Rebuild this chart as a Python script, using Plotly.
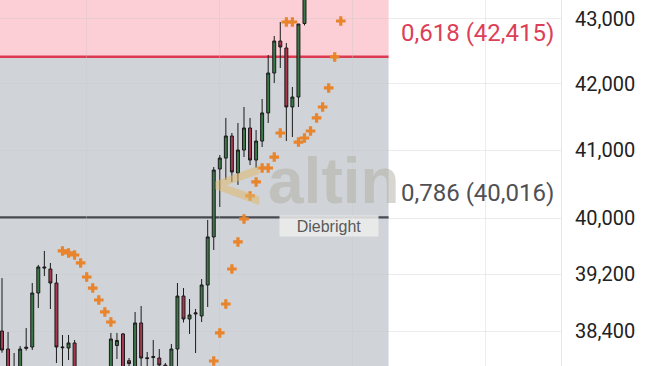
import math
import plotly.graph_objects as go

# ---------------- data ----------------
candle_idx = list(range(57))
opens = [38401, 38151, 37900, 37880, 38160, 38179, 38934, 39303, 39274, 39075,
         38180, 38165, 38235, 37700, 37500, 37600, 37550, 37750, 37860, 38200,
         38360, 37990, 37880, 38513, 38030, 38035, 38027, 37930, 37910, 38151,
         38891, 38569, 38639, 38611, 39047, 39733, 40724, 40886, 41214, 40665,
         41005, 41334, 40857, 41139, 41560, 42166, 42658, 42550, 41650, 41801,
         42930, 43450, 43650, 43820, 43900, 44100, 44050]
highs = [39145, 38388, 38096, 38193, 38443, 39075, 39332, 39532, 39360, 39203,
         38346, 38346, 38276, 37800, 37650, 37750, 37800, 37880, 38374, 38374,
         38374, 38027, 38667, 38751, 38110, 38276, 38151, 37958, 38221, 39075,
         39004, 38849, 38709, 39131, 39979, 40753, 40931, 41485, 41259, 41409,
         41650, 41485, 41304, 41771, 42442, 42736, 42953, 42627, 41953, 42922,
         43520, 43700, 43900, 44000, 44150, 44300, 44250]
lows = [38100, 37800, 37800, 37820, 38130, 38138, 38723, 39174, 38709, 37958,
        37900, 38000, 37800, 37400, 37300, 37450, 37500, 37600, 37800, 38013,
        37800, 37850, 37800, 37917, 37900, 37880, 37880, 37850, 37850, 37900,
        38520, 38360, 38096, 38527, 38737, 39546, 40167, 40562, 40533, 40490,
        40901, 40783, 40739, 41050, 41409, 42014, 42243, 41139, 41199, 41650,
        42900, 43380, 43550, 43700, 43800, 43950, 43900]
closes = [38138, 37850, 37860, 38151, 38175, 38934, 39303, 39290, 39075, 38179,
          38170, 38235, 37870, 37500, 37600, 37550, 37750, 37820, 38290, 38270,
          37880, 37950, 38513, 38027, 38020, 38045, 37930, 37910, 38151, 38891,
          38569, 38625, 38653, 39047, 39733, 40709, 40886, 41214, 40680, 41005,
          41334, 40857, 41139, 41560, 42166, 42658, 42566, 41650, 41801, 42922,
          43450, 43650, 43820, 43900, 44100, 44050, 44200]

sar_idx = [10, 11, 12, 13, 14, 15, 16, 17, 18,
           35, 36, 37, 38, 39, 40, 41, 42, 43, 44, 45, 46,
           47, 48,
           49, 50, 51, 52, 53, 54, 55, 56]
sar_vals = [39532, 39503, 39474, 39360, 39160, 39004, 38835, 38667, 38527,
            37986, 38374, 38779, 39274, 39661, 39993, 40328, 40533, 40739, 40739, 40901, 41259,
            42953, 42953,
            41124, 41184, 41289, 41485, 41650, 41938, 42412, 42969]

fib_levels = [42415, 40016]
fib_labels = ["0,618 (42,415)", "0,786 (40,016)"]
fib_zone_start = -1
fib_zone_end = 63.9

y_ticks = [38400, 39200, 40000, 41000, 42000, 43000]
y_ticktext = ["38,400", "39,200", "40,000", "41,000", "42,000", "43,000"]
x_grid = [14, 36, 58, 80]

# ---------------- figure ----------------
fig = go.Figure()

# fib zones and lines (below traces)
fig.add_shape(type="rect", xref="x", yref="y", layer="below",
              x0=fib_zone_start, x1=fib_zone_end, y0=fib_levels[0], y1=60000,
              fillcolor="rgb(252,206,213)", line=dict(width=0))
fig.add_shape(type="rect", xref="x", yref="y", layer="below",
              x0=fib_zone_start, x1=fib_zone_end, y0=30000, y1=fib_levels[0],
              fillcolor="rgb(208,211,215)", line=dict(width=0))
fig.add_shape(type="line", xref="x", yref="y", layer="below",
              x0=fib_zone_start, x1=fib_zone_end, y0=fib_levels[0], y1=fib_levels[0],
              line=dict(color="rgb(222,58,82)", width=2.5))
fig.add_shape(type="line", xref="x", yref="y", layer="below",
              x0=fib_zone_start, x1=fib_zone_end, y0=fib_levels[1], y1=fib_levels[1],
              line=dict(color="rgb(72,74,82)", width=2.5))

# candles
fig.add_trace(go.Candlestick(
    x=candle_idx, open=opens, high=highs, low=lows, close=closes,
    increasing=dict(fillcolor="#3b7748", line=dict(color="#1b1b1b", width=1)),
    decreasing=dict(fillcolor="#a8384f", line=dict(color="#1b1b1b", width=1)),
    showlegend=False))

# parabolic SAR
fig.add_trace(go.Scatter(
    x=sar_idx, y=sar_vals, mode="markers",
    marker=dict(symbol="cross", size=8, color="#e8842c", line=dict(width=0)),
    showlegend=False))

# labels for fib levels
fig.add_annotation(x=0.991, xref="paper", y=math.log10(fib_levels[0]), yref="y",
                   text=fib_labels[0], showarrow=False, xanchor="right", yanchor="bottom",
                   yshift=8, font=dict(family="Roboto", size=24, color="rgb(220,64,88)"))
fig.add_annotation(x=0.991, xref="paper", y=math.log10(fib_levels[1]), yref="y",
                   text=fib_labels[1], showarrow=False, xanchor="right", yanchor="bottom",
                   yshift=8, font=dict(family="Roboto", size=24, color="rgb(80,80,84)"))

# watermark
fig.add_annotation(x=0.424, xref="paper", y=0.5, yref="paper", text="<b>&lt;</b>",
                   showarrow=False, font=dict(family="DejaVu Sans", size=70,
                                              color="rgba(222,184,110,0.55)"))
fig.add_annotation(x=0.596, xref="paper", y=0.505, yref="paper", text="<b>altin</b>",
                   showarrow=False, font=dict(family="Liberation Sans", size=64,
                                              color="rgba(175,173,162,0.5)"))
fig.add_annotation(x=0.586, xref="paper", y=0.383, yref="paper", text="Diebright",
                   showarrow=False, bgcolor="rgba(236,236,236,0.85)", width=96, height=18,
                   font=dict(family="Liberation Sans", size=16, color="#5a5a5a"))

fig.update_layout(
    width=654, height=366,
    margin=dict(l=0, r=93, t=0, b=0),
    paper_bgcolor="white", plot_bgcolor="white",
    xaxis=dict(range=[-0.33, 92.4], rangeslider=dict(visible=False),
               tickvals=x_grid, showticklabels=False, showgrid=True,
               gridcolor="rgba(200,200,200,0.35)", zeroline=False, showline=False),
    yaxis=dict(type="log", range=[math.log10(37917), math.log10(43297)], side="right",
               tickvals=y_ticks, ticktext=y_ticktext, showgrid=True,
               gridcolor="rgba(200,200,200,0.35)", zeroline=False,
               showline=True, linecolor="#e6e6e6", linewidth=1,
               ticks="", ticklabelstandoff=9,
               tickfont=dict(family="Roboto", size=20, color="#222222")),
    showlegend=False,
)

fig.write_html("out.html")
